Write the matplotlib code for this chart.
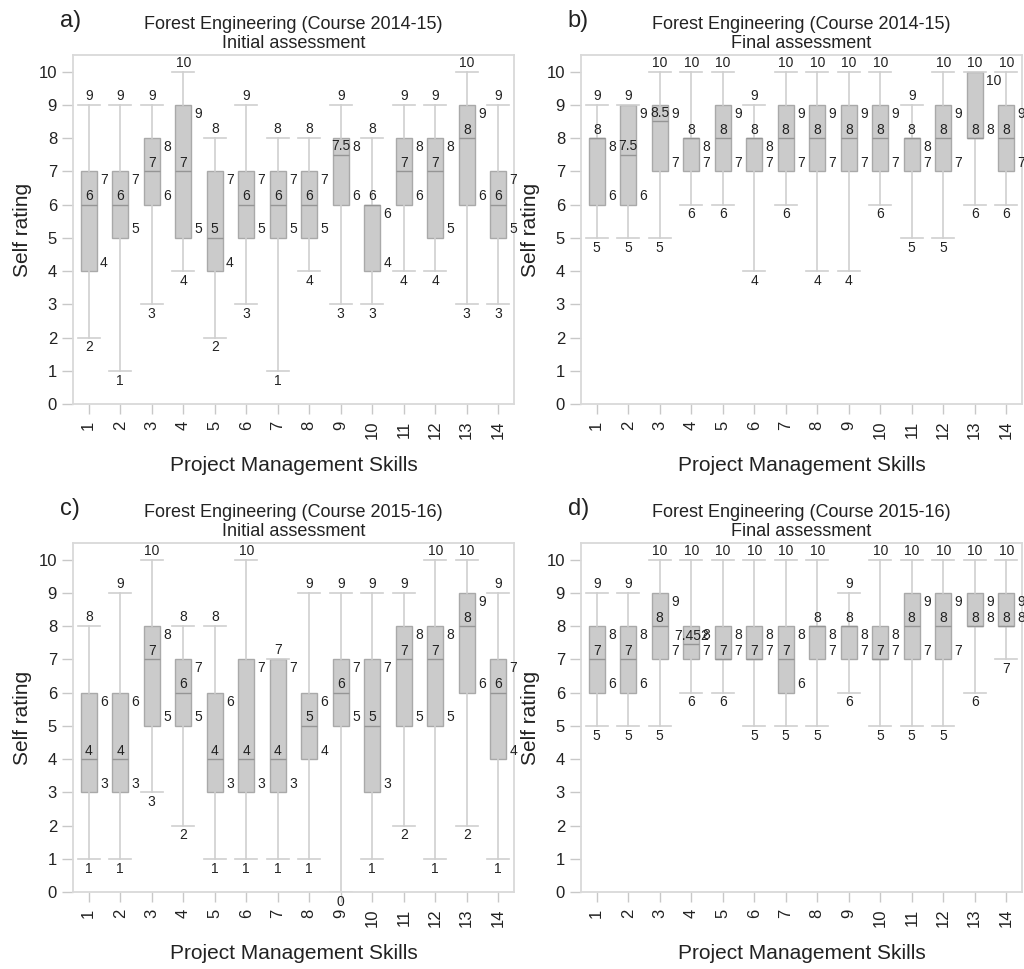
import matplotlib.pyplot as plt

plt.rcParams['font.family'] = ['Liberation Sans', 'DejaVu Sans']

skills = [str(i) for i in range(1, 15)]

# a) 2014-15 initial
a_lo  = [2, 1, 3, 4, 2, 3, 1, 4, 3, 3, 4, 4, 3, 3]
a_q1  = [4, 5, 6, 5, 4, 5, 5, 5, 6, 4, 6, 5, 6, 5]
a_med = [6, 6, 7, 7, 5, 6, 6, 6, 7.5, 6, 7, 7, 8, 6]
a_q3  = [7, 7, 8, 9, 7, 7, 7, 7, 8, 6, 8, 8, 9, 7]
a_hi  = [9, 9, 9, 10, 8, 9, 8, 8, 9, 8, 9, 9, 10, 9]

# b) 2014-15 final
b_lo  = [5, 5, 5, 6, 6, 4, 6, 4, 4, 6, 5, 5, 6, 6]
b_q1  = [6, 6, 7, 7, 7, 7, 7, 7, 7, 7, 7, 7, 8, 7]
b_med = [8, 7.5, 8.5, 8, 8, 8, 8, 8, 8, 8, 8, 8, 8, 8]
b_q3  = [8, 9, 9, 8, 9, 8, 9, 9, 9, 9, 8, 9, 10, 9]
b_hi  = [9, 9, 10, 10, 10, 9, 10, 10, 10, 10, 9, 10, 10, 10]

# c) 2015-16 initial
c_lo  = [1, 1, 3, 2, 1, 1, 1, 1, 0, 1, 2, 1, 2, 1]
c_q1  = [3, 3, 5, 5, 3, 3, 3, 4, 5, 3, 5, 5, 6, 4]
c_med = [4, 4, 7, 6, 4, 4, 4, 5, 6, 5, 7, 7, 8, 6]
c_q3  = [6, 6, 8, 7, 6, 7, 7, 6, 7, 7, 8, 8, 9, 7]
c_hi  = [8, 9, 10, 8, 8, 10, 7, 9, 9, 9, 9, 10, 10, 9]

# d) 2015-16 final
d_lo  = [5, 5, 5, 6, 6, 5, 5, 5, 6, 5, 5, 5, 6, 7]
d_q1  = [6, 6, 7, 7, 7, 7, 6, 7, 7, 7, 7, 7, 8, 8]
d_med = [7, 7, 8, 7.452, 7, 7, 7, 8, 8, 7, 8, 8, 8, 8]
d_q3  = [8, 8, 9, 8, 8, 8, 8, 8, 8, 8, 9, 9, 9, 9]
d_hi  = [9, 9, 10, 10, 10, 10, 10, 10, 9, 10, 10, 10, 10, 10]

panels = [
    ("a)", "Forest Engineering (Course 2014-15)\nInitial assessment", a_lo, a_q1, a_med, a_q3, a_hi),
    ("b)", "Forest Engineering (Course 2014-15)\nFinal assessment", b_lo, b_q1, b_med, b_q3, b_hi),
    ("c)", "Forest Engineering (Course 2015-16)\nInitial assessment", c_lo, c_q1, c_med, c_q3, c_hi),
    ("d)", "Forest Engineering (Course 2015-16)\nFinal assessment", d_lo, d_q1, d_med, d_q3, d_hi),
]

W, H = 1024, 969
rects = [(73, 55), (581, 55), (73, 543), (581, 543)]
aw, ah = 441, 349

txt = '#222222'
fig = plt.figure(figsize=(W / 100, H / 100), dpi=100)

for (letter, title, lo, q1, med, q3, hi), (px, py) in zip(panels, rects):
    ax = fig.add_axes([px / W, (H - py - ah) / H, aw / W, ah / H])
    pos = list(range(1, 15))
    stats = [dict(whislo=l, q1=a, med=m, q3=b, whishi=h, label=s)
             for l, a, m, b, h, s in zip(lo, q1, med, q3, hi, skills)]
    ax.bxp(stats, positions=pos, widths=0.5, capwidths=0.7, patch_artist=True,
           showfliers=False,
           boxprops=dict(facecolor='#cbcbcb', edgecolor='#a9a9a9', linewidth=1),
           medianprops=dict(color='#959595', linewidth=1),
           whiskerprops=dict(color='#cfcfcf', linewidth=1.2),
           capprops=dict(color='#cfcfcf', linewidth=1.2))

    # valeurs : max au-dessus, min en dessous, médiane dans la boîte, quartiles à droite
    fs = 10
    for x, l, a, m, b, h in zip(pos, lo, q1, med, q3, hi):
        ax.annotate(f"{h:g}", (x, h), xytext=(0, 1.5), textcoords='offset points',
                    ha='center', va='bottom', fontsize=fs, color=txt)
        ax.annotate(f"{l:g}", (x, l), xytext=(0, -2), textcoords='offset points',
                    ha='center', va='top', fontsize=fs, color=txt)
        ax.annotate(f"{m:g}", (x, m), xytext=(0, 1), textcoords='offset points',
                    ha='center', va='bottom', fontsize=fs, color=txt)
        ax.annotate(f"{b:g}", (x + 0.25, b), xytext=(2.5, -1.5), textcoords='offset points',
                    ha='left', va='top', fontsize=fs, color=txt)
        ax.annotate(f"{a:g}", (x + 0.25, a), xytext=(2.5, 1), textcoords='offset points',
                    ha='left', va='bottom', fontsize=fs, color=txt)

    ax.set_xlim(0.5, 14.5)
    ax.set_ylim(0, 10.5)
    ax.set_yticks(range(0, 11))
    ax.set_xticks(pos)
    ax.set_xticklabels(skills, rotation=90)
    ax.tick_params(axis='both', colors='#c8c8c8', labelcolor=txt, labelsize=12,
                   length=8, width=1)
    ax.tick_params(axis='x', length=7, pad=5)
    for sp in ax.spines.values():
        sp.set_color('#d9d9d9')
        sp.set_linewidth(1.3)

    ax.set_title(title, fontsize=13, color=txt, pad=5, linespacing=1.12)
    ax.set_xlabel("Project Management Skills", fontsize=15, color=txt, labelpad=12)
    ax.set_ylabel("Self rating", fontsize=15, color=txt, labelpad=5)
    ax.text(-0.03, 1.08, letter, transform=ax.transAxes, fontsize=17,
            color=txt, ha='left', va='baseline')

fig.savefig("out.png", dpi=100)
